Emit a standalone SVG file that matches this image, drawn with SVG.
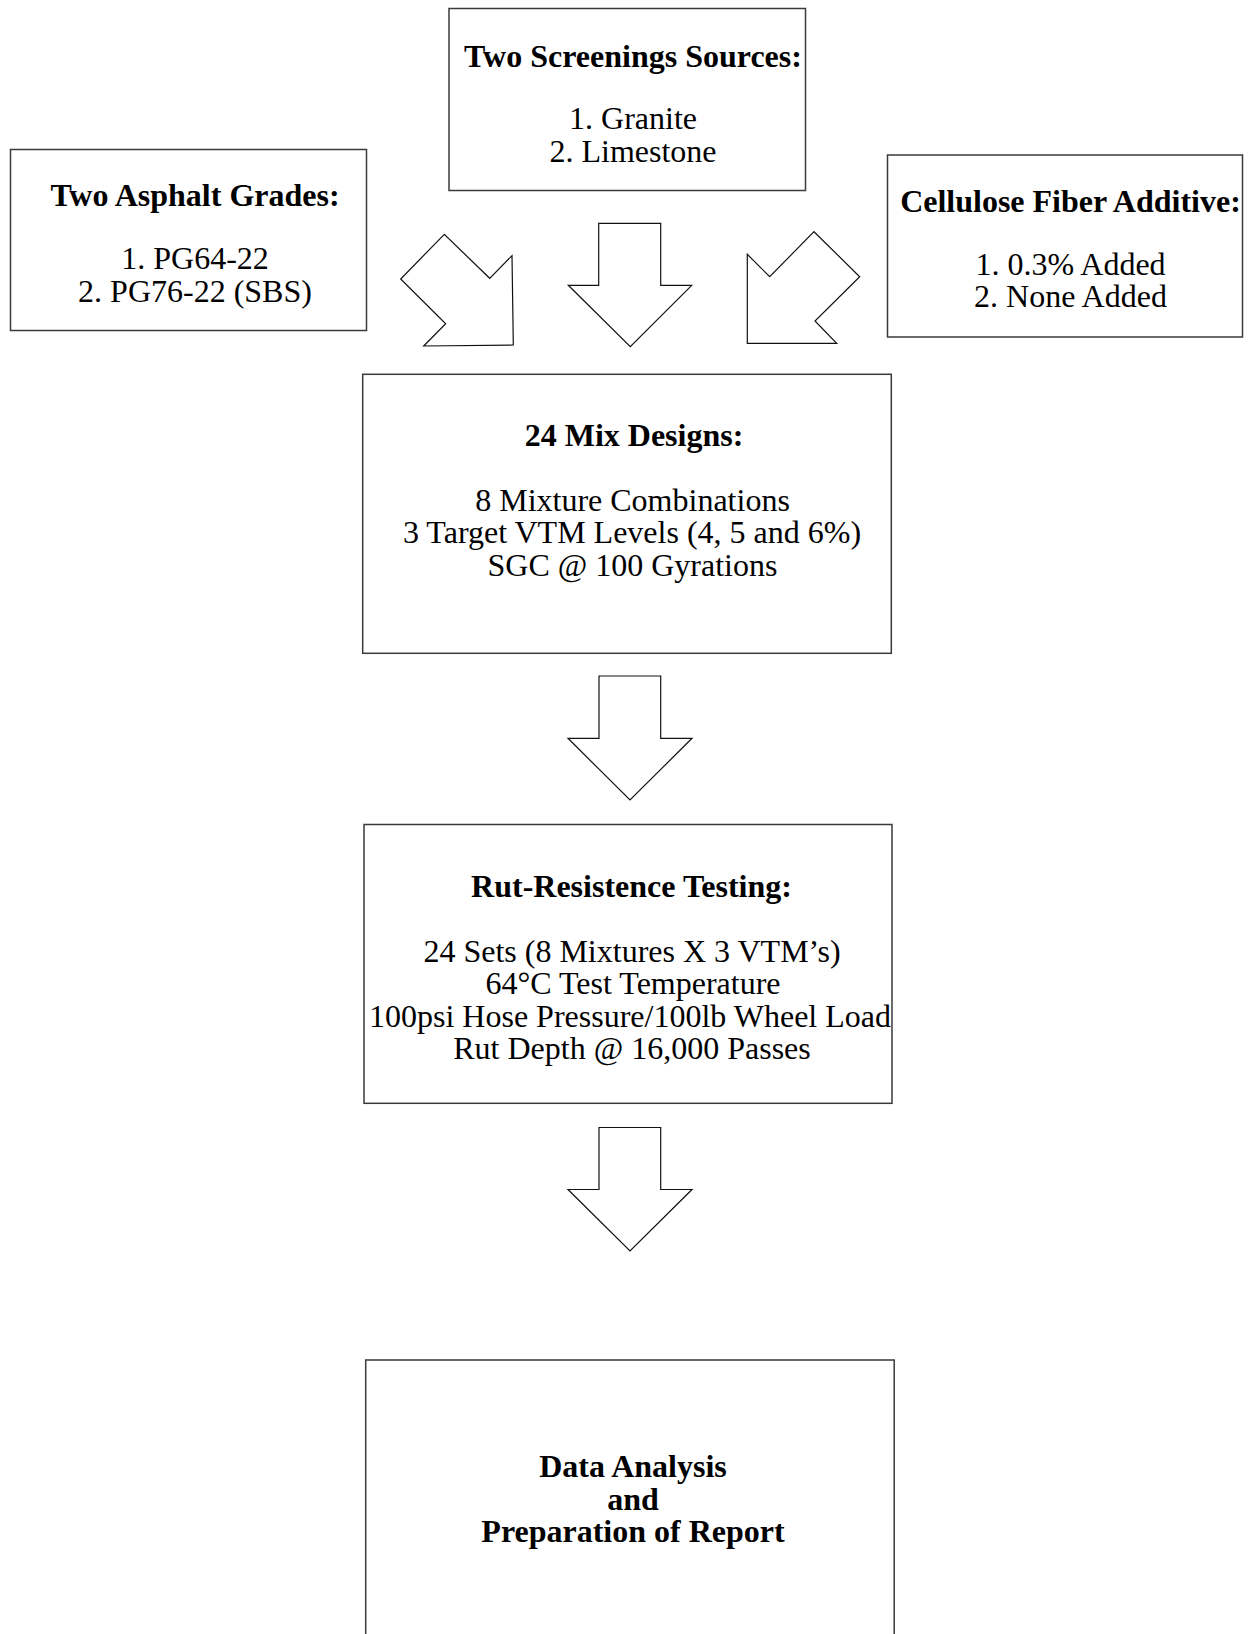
<svg xmlns="http://www.w3.org/2000/svg" width="1251" height="1634" viewBox="0 0 1251 1634">
<style>
.box{fill:#fff;stroke:#3a3a3a;stroke-width:1.5}
.arr{fill:#fff;stroke:#111;stroke-width:1.2;stroke-linejoin:miter}
text{font-family:"Liberation Serif","Times New Roman",serif;font-size:32px;fill:#000;text-anchor:middle}
.h{font-weight:bold}
</style>
<rect width="1251" height="1634" fill="#fff"/>
<g id="connectors">
<polygon class="arr" points="444.3,234.3 400.7,279 445.7,323.7 423.7,346 513.3,345 512,255.7 489.7,278.3"/>
<polygon class="arr" points="598.7,223.3 660.7,223.3 660.7,285.3 691.7,285.3 630.3,346.7 568.3,285.3 598.7,285.3"/>
<polygon class="arr" points="814,231.7 859.7,276.7 815,321 836.7,343.3 747.3,343.3 747.3,254.3 769.7,276.7"/>
<polygon class="arr" points="599,676 660.7,676 660.7,738.3 692,738.3 630,800 568,738.3 599,738.3"/>
<polygon class="arr" points="599,1127.5 660.7,1127.5 660.7,1189.5 692,1189.5 630,1251 568,1189.5 599,1189.5"/>
</g>
<g id="screenings">
<rect class="box" x="449" y="8.5" width="356.5" height="182"/>
<text class="h" x="633" y="66.7">Two Screenings Sources:</text>
<text x="633" y="129.3">1. Granite</text>
<text x="633" y="161.7">2. Limestone</text>
</g>
<g id="asphalt">
<rect class="box" x="10.5" y="149.5" width="356" height="181"/>
<text class="h" x="195" y="205.7">Two Asphalt Grades:</text>
<text x="195" y="269.3">1. PG64-22</text>
<text x="195" y="301.7">2. PG76-22 (SBS)</text>
</g>
<g id="cellulose">
<rect class="box" x="887.5" y="155" width="355" height="182"/>
<text class="h" x="1070.5" y="212">Cellulose Fiber Additive:</text>
<text x="1070.5" y="275">1. 0.3% Added</text>
<text x="1070.5" y="307">2. None Added</text>
</g>
<g id="mix">
<rect class="box" x="362.7" y="374.3" width="528.6" height="279"/>
<text class="h" x="634" y="446">24 Mix Designs:</text>
<text x="632.5" y="511">8 Mixture Combinations</text>
<text x="632" y="543.4">3 Target VTM Levels (4, 5 and 6%)</text>
<text x="632.5" y="575.8">SGC @ 100 Gyrations</text>
</g>
<g id="rut">
<rect class="box" x="364" y="824.5" width="528" height="278.8"/>
<text class="h" x="631.5" y="897">Rut-Resistence Testing:</text>
<text x="632" y="961.5">24 Sets (8 Mixtures X 3 VTM’s)</text>
<text x="633" y="994">64°C Test Temperature</text>
<text x="630" y="1026.5">100psi Hose Pressure/100lb Wheel Load</text>
<text x="632" y="1059">Rut Depth @ 16,000 Passes</text>
</g>
<g id="report">
<rect class="box" x="365.7" y="1360" width="528.5" height="300"/>
<text class="h" x="633" y="1477">Data Analysis</text>
<text class="h" x="633" y="1509.5">and</text>
<text class="h" x="633" y="1542">Preparation of Report</text>
</g>
</svg>
